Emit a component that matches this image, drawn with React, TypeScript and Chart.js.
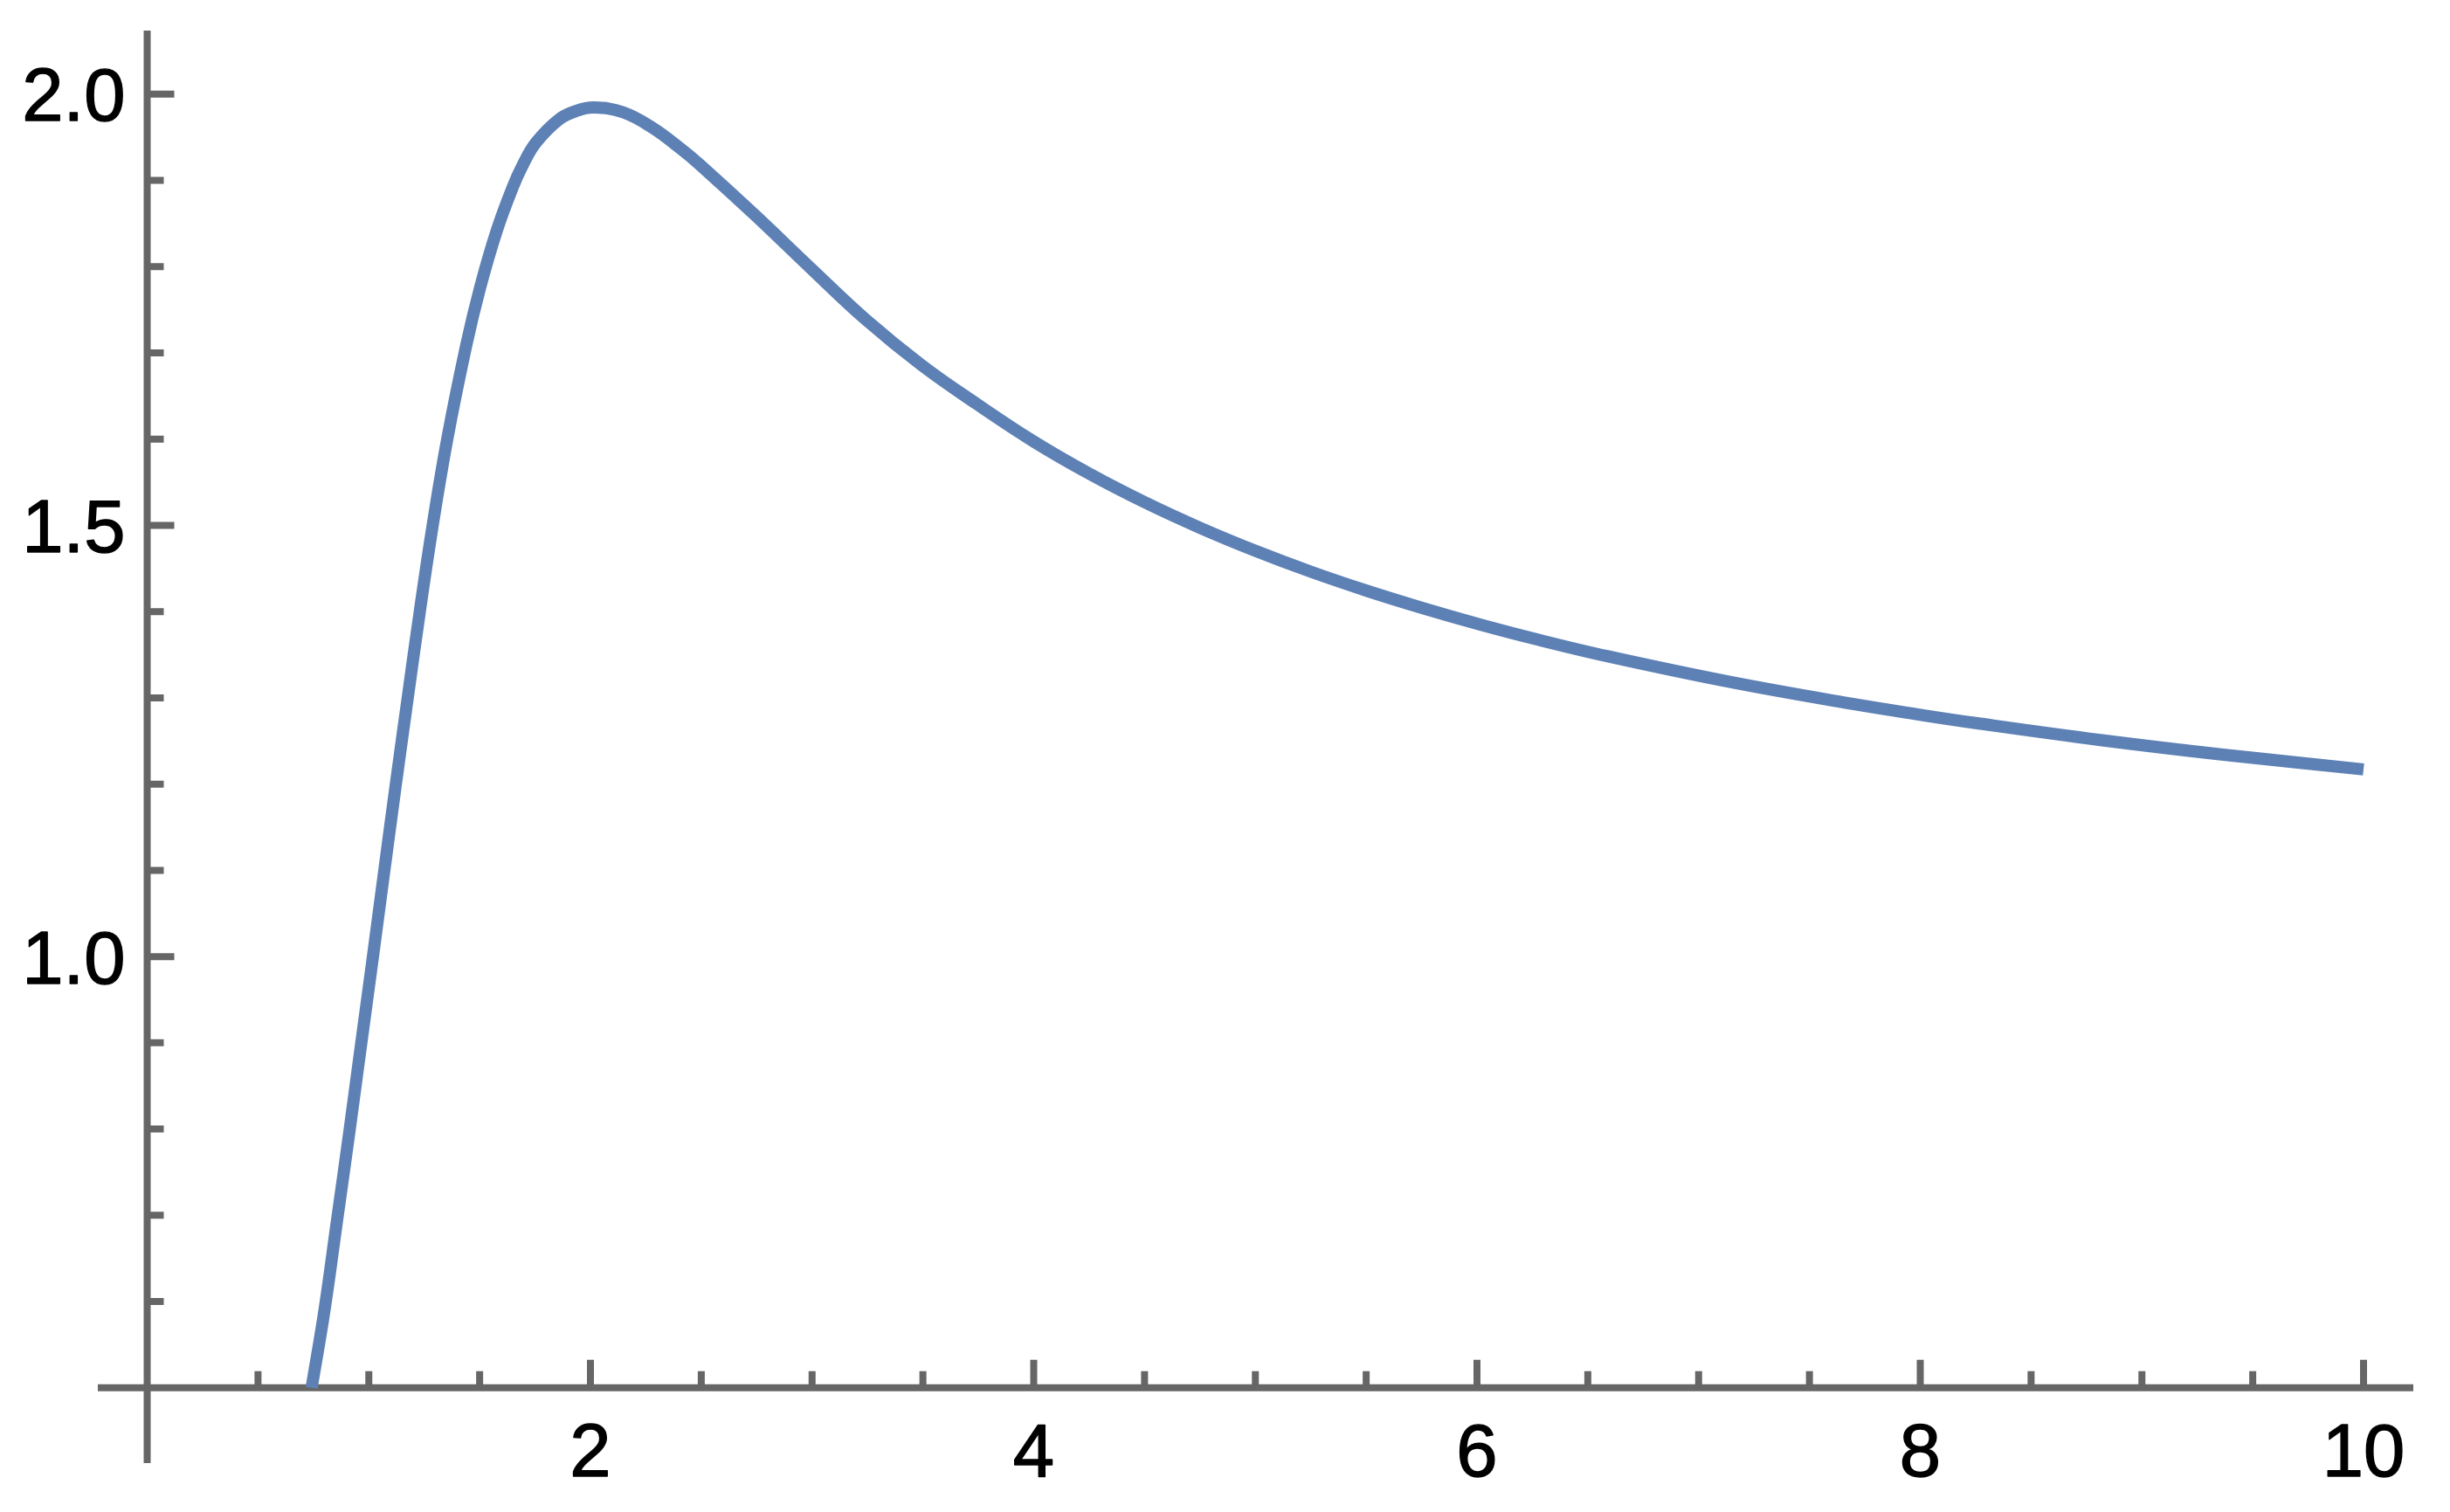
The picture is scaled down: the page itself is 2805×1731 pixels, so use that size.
import { useEffect, useRef } from 'react';
import { Chart, registerables } from 'chart.js';

Chart.register(...registerables);

// Curve samples (lightly smoothed by eye)
const curveX = [
  0.742, 0.8, 0.855, 0.91, 0.963, 1.016, 1.068, 1.121, 1.175, 1.23, 1.288, 1.354, 1.439,
  1.502, 1.577, 1.648, 1.694, 1.753, 1.858, 1.937, 2.016, 2.147, 2.279, 2.41, 2.489,
  2.74, 2.992, 3.243, 3.494, 3.745, 3.997, 4.248, 4.499, 4.751, 5.002, 5.253, 5.505,
  5.756, 6.007, 6.259, 6.591, 7.146, 7.702, 8.002, 8.257, 8.813, 9.368, 10.0,
];
const curveY = [
  0.5, 0.59, 0.691, 0.7925, 0.894, 0.995, 1.096, 1.198, 1.299, 1.4, 1.4998, 1.6001, 1.7081,
  1.7755, 1.8415, 1.8912, 1.9174, 1.9434, 1.9707, 1.9806, 1.9845, 1.979, 1.9612, 1.9363, 1.9193,
  1.8603, 1.7986, 1.7384, 1.6858, 1.6404, 1.5977, 1.5603, 1.527, 1.4971, 1.4703, 1.446, 1.424,
  1.404, 1.3855, 1.3685, 1.3481, 1.3182, 1.2926, 1.2803, 1.2705, 1.2511, 1.2341, 1.217,
];

// Axis ticks
const xMajorTicks = [2, 4, 6, 8, 10];
const xTickLabels = ['2', '4', '6', '8', '10'];
const xMinorTicks = [0.5, 1, 1.5, 2.5, 3, 3.5, 4.5, 5, 5.5, 6.5, 7, 7.5, 8.5, 9, 9.5];
const yMajorTicks = [1.0, 1.5, 2.0];
const yTickLabels = ['1.0', '1.5', '2.0'];
const yMinorTicks = [0.6, 0.7, 0.8, 0.9, 1.1, 1.2, 1.3, 1.4, 1.6, 1.7, 1.8, 1.9];
const axisOrigin = { x: 0, y: 0.5 };
const xRange = { min: -0.2227, max: 10.2246 };
const yRange = { min: 0.4127, max: 2.0737 };

const AXIS_COLOR = '#666666';
const LINE_COLOR = '#5E81B5';
const FONT = '85px "Liberation Sans", Arial, sans-serif';

const axesPlugin = {
  id: 'mmaAxes',
  beforeDatasetsDraw(chart: any) {
    const { ctx, chartArea } = chart;
    const xs = chart.scales.x;
    const ys = chart.scales.y;
    const x0 = xs.getPixelForValue(axisOrigin.x);
    const y0 = ys.getPixelForValue(axisOrigin.y);
    const half = 4;
    ctx.save();
    ctx.strokeStyle = AXIS_COLOR;
    ctx.lineWidth = 8;
    ctx.lineCap = 'butt';
    ctx.beginPath();
    ctx.moveTo(chartArea.left, y0);
    ctx.lineTo(chartArea.right, y0);
    ctx.moveTo(x0, chartArea.top);
    ctx.lineTo(x0, chartArea.bottom);
    ctx.stroke();

    ctx.beginPath();
    for (const v of xMinorTicks) {
      const px = xs.getPixelForValue(v);
      ctx.moveTo(px, y0 - half + 1);
      ctx.lineTo(px, y0 - half - 15);
    }
    for (const v of xMajorTicks) {
      const px = xs.getPixelForValue(v);
      ctx.moveTo(px, y0 - half + 1);
      ctx.lineTo(px, y0 - half - 28);
    }
    for (const v of yMinorTicks) {
      const py = ys.getPixelForValue(v);
      ctx.moveTo(x0 + half - 1, py);
      ctx.lineTo(x0 + half + 15, py);
    }
    for (const v of yMajorTicks) {
      const py = ys.getPixelForValue(v);
      ctx.moveTo(x0 + half - 1, py);
      ctx.lineTo(x0 + half + 27, py);
    }
    ctx.stroke();

    ctx.fillStyle = '#000000';
    ctx.strokeStyle = '#000000';
    ctx.lineWidth = 1.4;
    ctx.lineJoin = 'round';
    ctx.font = FONT;
    ctx.textBaseline = 'alphabetic';
    ctx.textAlign = 'center';
    xMajorTicks.forEach((v, i) => {
      const px = xs.getPixelForValue(v);
      ctx.fillText(xTickLabels[i], px, y0 + 101);
      ctx.strokeText(xTickLabels[i], px, y0 + 101);
    });
    ctx.textAlign = 'right';
    yMajorTicks.forEach((v, i) => {
      const py = ys.getPixelForValue(v);
      ctx.fillText(yTickLabels[i], x0 - 25, py + 30.5);
      ctx.strokeText(yTickLabels[i], x0 - 25, py + 30.5);
    });
    ctx.restore();
  },
};

export default function App() {
  const canvasRef = useRef<HTMLCanvasElement | null>(null);

  useEffect(() => {
    const canvas = canvasRef.current;
    if (!canvas) return;
    const data = curveX.map((x, i) => ({ x, y: curveY[i] }));
    const chart = new Chart(canvas, {
      type: 'line',
      data: {
        datasets: [
          {
            data,
            borderColor: LINE_COLOR,
            borderWidth: 14,
            pointRadius: 0,
            pointHoverRadius: 0,
            fill: false,
            tension: 0.4,
            borderCapStyle: 'butt',
            borderJoinStyle: 'round',
            clip: false,
          } as any,
        ],
      },
      options: {
        responsive: false,
        devicePixelRatio: 1,
        animation: false,
        layout: { padding: { left: 112, right: 42, top: 35, bottom: 56 } },
        scales: {
          x: { type: 'linear', display: false, min: xRange.min, max: xRange.max },
          y: { type: 'linear', display: false, min: yRange.min, max: yRange.max },
        },
        plugins: {
          legend: { display: false },
          tooltip: { enabled: false },
        },
        events: [],
      },
      plugins: [axesPlugin],
    });
    return () => chart.destroy();
  }, []);

  return (
    <div
      style={{
        position: 'fixed',
        left: 0,
        top: 0,
        width: 2805,
        height: 1731,
        background: '#ffffff',
      }}
    >
      <canvas ref={canvasRef} width={2805} height={1731} style={{ display: 'block' }} />
    </div>
  );
}
